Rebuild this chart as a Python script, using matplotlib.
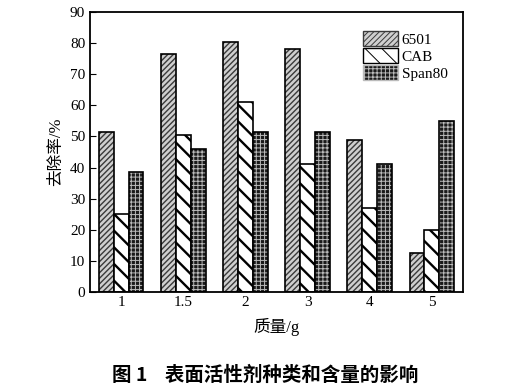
import matplotlib.pyplot as plt
import numpy as np
from matplotlib.patches import Patch

plt.rcParams['font.family'] = ['Liberation Serif', 'Noto Sans CJK SC']
plt.rcParams['hatch.linewidth'] = 1.0

# data
masses = ['1', '1.5', '2', '3', '4', '5']
v6501 = [51.5, 76.5, 80.5, 78, 49, 12.5]
vcab = [25, 50.5, 61, 41, 27, 20]
vspan = [38.5, 46, 51.5, 51.5, 41, 55]

fig = plt.figure(figsize=(5.31, 3.87), dpi=100)
ax = fig.add_axes([90 / 531, 1 - 292 / 387, 373 / 531, 280 / 387])

x = np.arange(len(masses))
w = 0.24

# 6501: grey with dense diagonal
ax.bar(x - w, v6501, w, facecolor='#cfcfcf', edgecolor='#3a3a3a', hatch='//////', linewidth=0)
ax.bar(x - w, v6501, w, fill=False, edgecolor='black', linewidth=1.2)
h1 = Patch(facecolor='#cfcfcf', edgecolor='#3a3a3a', hatch='//////')
# CAB: white with wide back-diagonal
plt.rcParams['hatch.linewidth'] = 1.7
ax.bar(x, vcab, w, facecolor='white', edgecolor='black', hatch='\\\\', linewidth=0)
ax.bar(x, vcab, w, fill=False, edgecolor='black', linewidth=1.2)
h2 = Patch(facecolor='white', edgecolor='black', hatch='\\\\')
# Span80: dark with light grid
plt.rcParams['hatch.linewidth'] = 0.7
ax.bar(x + w, vspan, w, facecolor='#1a1a1a', edgecolor='#bbbbbb', hatch='++++', linewidth=0)
ax.bar(x + w, vspan, w, fill=False, edgecolor='black', linewidth=1.2)
h3 = Patch(facecolor='#1a1a1a', edgecolor='#bbbbbb', hatch='++++')

ax.set_xlim(-0.5, len(masses) - 0.5)
ax.set_ylim(0, 90)
ax.set_yticks(range(0, 91, 10))
ax.set_xticks(x)
ax.set_xticklabels(masses)
ax.tick_params(axis='y', direction='in', length=4, labelsize=11)
ax.tick_params(axis='x', length=0, labelsize=11, pad=3)
for s in ax.spines.values():
    s.set_linewidth(1.3)

ax.set_xlabel('质量/g', fontsize=12, labelpad=6)
ax.set_ylabel('去除率/%', fontsize=12, labelpad=4)

ax.legend([h1, h2, h3], ['6501', 'CAB', 'Span80'], loc='upper right',
          bbox_to_anchor=(0.995, 0.98), frameon=False, fontsize=11,
          handlelength=2.3, handleheight=1.1, handletextpad=0.2, labelspacing=0.1)

fig.text(0.5, 12 / 387, '图 1    表面活性剂种类和含量的影响', ha='center', va='center',
         fontsize=14, fontweight='bold', family=['Noto Sans CJK SC', 'DejaVu Sans'])

fig.savefig('out.png', dpi=100)
